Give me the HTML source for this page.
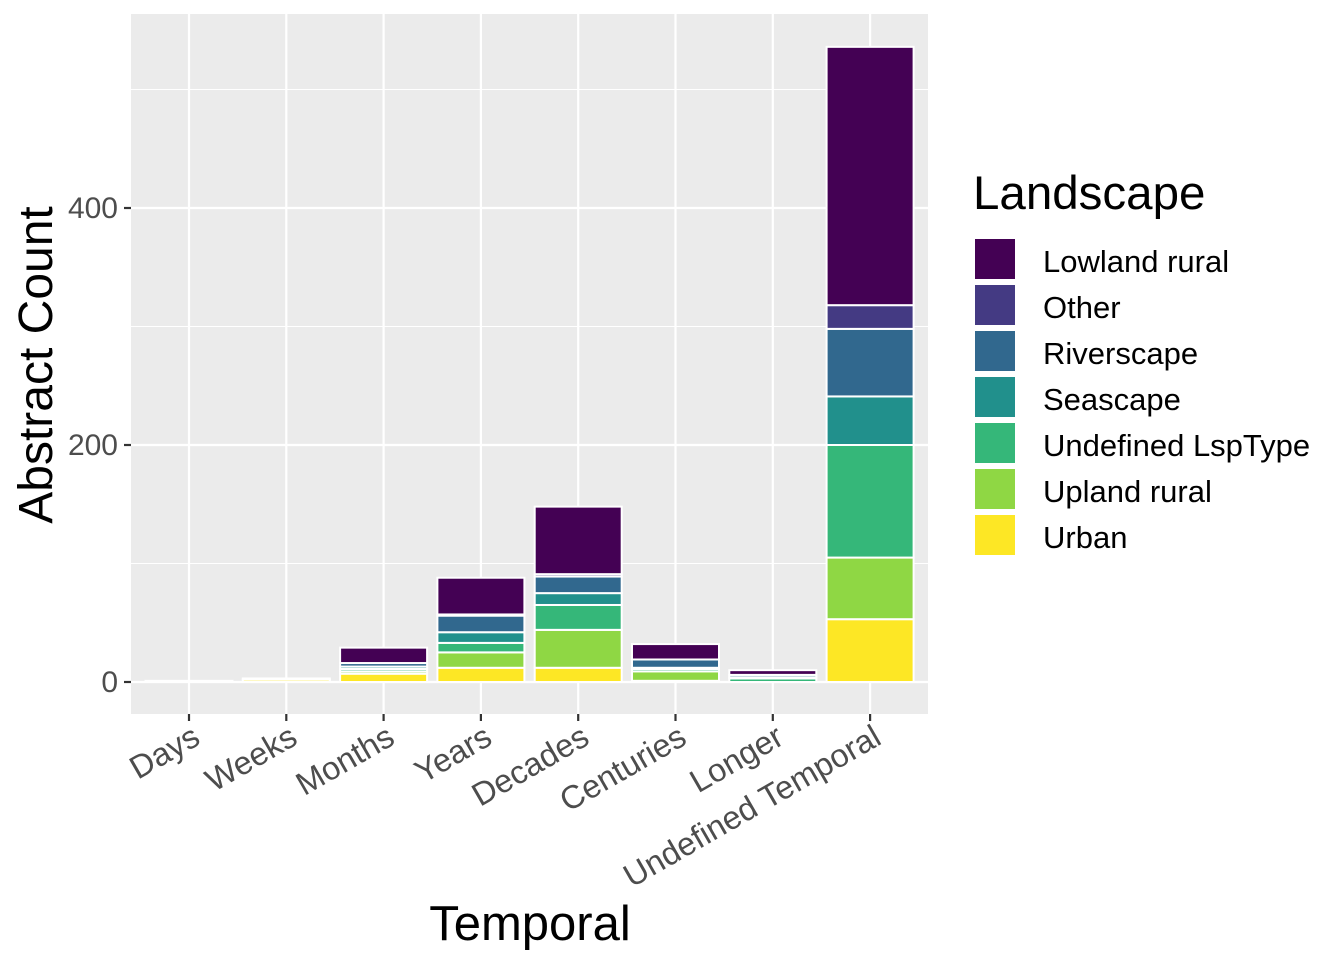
<!DOCTYPE html>
<html><head><meta charset="utf-8"><style>body{margin:0;background:#fff}svg{display:block;font-family:"Liberation Sans",sans-serif}</style></head>
<body>
<svg id="chart" width="1344" height="960">
<rect x="131" y="14" width="797" height="700" fill="#EBEBEB"/>
<g id="grid"></g><g id="bars"></g><g id="axes"></g><g id="legend"></g>
<text x="530" y="940" font-size="49" text-anchor="middle">Temporal</text>
<text transform="translate(52,365) rotate(-90)" font-size="48" text-anchor="middle">Abstract Count</text>
<text x="973" y="209" font-size="47.5">Landscape</text>
</svg>
<script>
const categories=["Days","Weeks","Months","Years","Decades","Centuries","Longer","Undefined Temporal"];
const seriesNames=["Lowland rural","Other","Riverscape","Seascape","Undefined LspType","Upland rural","Urban"];
const seriesColors=["#440154","#443A83","#31688E","#21908C","#35B779","#8FD744","#FDE725"];
// values per category for each series
const lowland=[0,0,13,31,57,13,4,218];
const other=[0,0,0,1,2,0,0,20];
const river=[0,0,3,14,14,7,2,57];
const sea=[0,0,2,9,10,1,1,41];
const undef=[0,0,2,8,21,2,3,95];
const upland=[1,1,2,13,32,8,0,52];
const urban=[0,2,7,12,12,1,0,53];
const yTicks=[0,200,400];
const yMinor=[100,300,500];
const NS="http://www.w3.org/2000/svg";
const series=[lowland,other,river,sea,undef,upland,urban];
const y=v=>682-v*1.185;
const x=i=>189+i*97.3;
function mk(p,tag,at){const e=document.createElementNS(NS,tag);for(const k in at)e.setAttribute(k,at[k]);p.appendChild(e);return e;}
const grid=document.getElementById('grid'),bars=document.getElementById('bars'),axes=document.getElementById('axes'),leg=document.getElementById('legend');
yMinor.forEach(v=>{const l=mk(grid,'line',{x1:131,x2:928,y1:y(v),y2:y(v),stroke:'#fff','stroke-width':1});

});
yTicks.forEach(v=>{const l=mk(grid,'line',{x1:131,x2:928,y1:y(v),y2:y(v),stroke:'#fff','stroke-width':2.2});


const t=mk(axes,'line',{x1:124,x2:131,y1:y(v),y2:y(v),stroke:'#333','stroke-width':2.2});


const tx=mk(axes,'text',{x:118,y:y(v)+10,'font-size':30,fill:'#4D4D4D','text-anchor':'end'});tx.textContent=v;

});
categories.forEach((c,i)=>{const l=mk(grid,'line',{x1:x(i),x2:x(i),y1:14,y2:714,stroke:'#fff','stroke-width':2.2});


const t=mk(axes,'line',{x1:x(i),x2:x(i),y1:714,y2:721,stroke:'#333','stroke-width':2.2});


const tx=mk(axes,'text',{transform:`translate(${x(i)+13},${743}) rotate(-30)`,'font-size':32.5,fill:'#4D4D4D','text-anchor':'end'});tx.textContent=c;


let cum=0;
for(let s=series.length-1;s>=0;s--){const v=series[s][i];if(v<=0)continue;
const r=mk(bars,'rect',{x:x(i)-43.5,width:87,y:y(cum+v),height:v*1.185,fill:seriesColors[s],stroke:'#fff','stroke-width':2});


cum+=v;}});
seriesNames.forEach((n,k)=>{const r=mk(leg,'rect',{x:975,y:239+k*46,width:40,height:40,fill:seriesColors[k]});


const t=mk(leg,'text',{x:1043,y:272+k*46,'font-size':31});t.textContent=n;

});
</script>
</body></html>
